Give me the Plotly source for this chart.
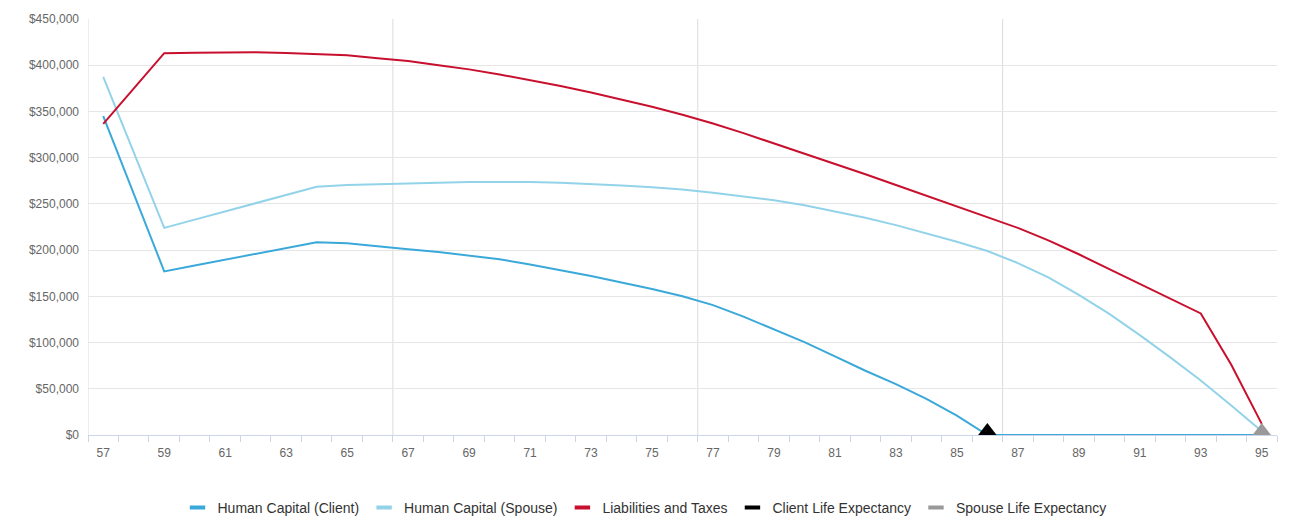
import plotly.graph_objects as go

# Ages on the horizontal axis
ages = list(range(57, 96))

# Present value of future earnings for each person, by age
human_capital_client = [
    345000, 261000, 177000, 183400, 189600, 195800, 202100, 208400, 207300, 204500,
    201000, 198000, 194000, 190000, 184500, 178500, 172000, 165000, 158000, 150000,
    140500, 128000, 114500, 100500, 85000, 69500, 55000, 39000, 21000, 0,
    0, 0, 0, 0, 0, 0, 0, 0, 0,
]
human_capital_spouse = [
    387500, 306000, 224000, 233000, 242000, 250500, 259500, 268500, 270500, 271500,
    272300, 273000, 273600, 273900, 273700, 272800, 271600, 270000, 268000, 265500,
    262000, 258000, 254000, 248500, 241500, 235000, 227000, 218000, 209000, 199000,
    186000, 170500, 151500, 131000, 108000, 84000, 59000, 32000, 4000,
]
liabilities_and_taxes = [
    336500, 375000, 413000, 413500, 414000, 414000, 413300, 412400, 410700, 407500,
    404500, 400000, 395500, 390000, 384000, 377500, 370500, 363000, 355000, 346500,
    337000, 326500, 315500, 304500, 293500, 282000, 270500, 259000, 247500, 236000,
    224000, 210500, 195500, 179500, 163500, 147500, 131500, 76000, 12000,
]

# Life expectancy markers (age, value)
client_life_expectancy = ([86], [0])
spouse_life_expectancy = ([95], [0])

series_names = [
    "Human Capital (Client)",
    "Human Capital (Spouse)",
    "Liabilities and Taxes",
    "Client Life Expectancy",
    "Spouse Life Expectancy",
]
series_colors = ["#3AA9DA", "#92D3E9", "#C8102E", "#000000", "#999999"]

# Odd ages get a label
x_tick_ages = list(range(57, 96, 2))
# Category boundaries that carry a vertical grid line
x_grid_bounds = [56.5, 66.5, 76.5, 86.5]

FONT = "Liberation Sans, Arial, sans-serif"
MARKER_SIZE = 16

fig = go.Figure()

line_series = [human_capital_client, human_capital_spouse, liabilities_and_taxes]
for name, color, values in zip(series_names[:3], series_colors[:3], line_series):
    fig.add_trace(go.Scatter(
        x=ages, y=values, mode="lines", name=name,
        line=dict(color=color, width=2),
        showlegend=False, hoverinfo="x+y+name",
    ))

# Upward triangles resting on the baseline at each life expectancy age
for name, color, (xs, ys) in zip(series_names[3:], series_colors[3:],
                                 [client_life_expectancy, spouse_life_expectancy]):
    fig.add_trace(go.Scatter(
        x=xs, y=ys, mode="markers", name=name,
        marker=dict(symbol="triangle-down", angle=180, size=MARKER_SIZE,
                    color=color, standoff=MARKER_SIZE / 4),
        showlegend=False, cliponaxis=False,
    ))

# Legend entries drawn as short thick bars
for name, color in zip(series_names, series_colors):
    fig.add_trace(go.Scatter(
        x=[None], y=[None], mode="markers", name=name,
        marker=dict(symbol="line-ew", size=11, color=color,
                    line=dict(color=color, width=4)),
        showlegend=True,
    ))

for xb in x_grid_bounds:
    fig.add_vline(x=xb, line=dict(color="#dcdcdc", width=1), layer="below")

fig.update_layout(
    width=1289, height=522,
    margin=dict(l=88, r=12, t=17, b=87),
    paper_bgcolor="white", plot_bgcolor="white",
    font=dict(family=FONT, size=12, color="#666666"),
    showlegend=True,
    legend=dict(
        orientation="h", xref="container", x=0.5, xanchor="center",
        yref="container", y=0.027, yanchor="middle",
        font=dict(family=FONT, size=14, color="#333333"),
        itemwidth=30, tracegroupgap=0,
    ),
    xaxis=dict(
        range=[56.5, 95.5],
        tickvals=x_tick_ages, ticktext=[str(a) for a in x_tick_ages],
        ticks="", showgrid=False, zeroline=False,
        showline=True, linecolor="#ccd6eb", linewidth=1,
        ticklabelstandoff=7,
        tickfont=dict(family=FONT, size=12, color="#666666"),
        minor=dict(tick0=0.5, dtick=1, ticks="outside", ticklen=6,
                   tickcolor="#ccd6eb", tickwidth=1, showgrid=False),
    ),
    yaxis=dict(
        range=[0, 450000], dtick=50000,
        tickprefix="$", tickformat=",d",
        showgrid=True, gridcolor="#e6e6e6", gridwidth=1,
        zeroline=False, showline=False, ticks="",
        ticklabelstandoff=8,
        tickfont=dict(family=FONT, size=12, color="#666666"),
    ),
)

fig.write_html("out.html")
